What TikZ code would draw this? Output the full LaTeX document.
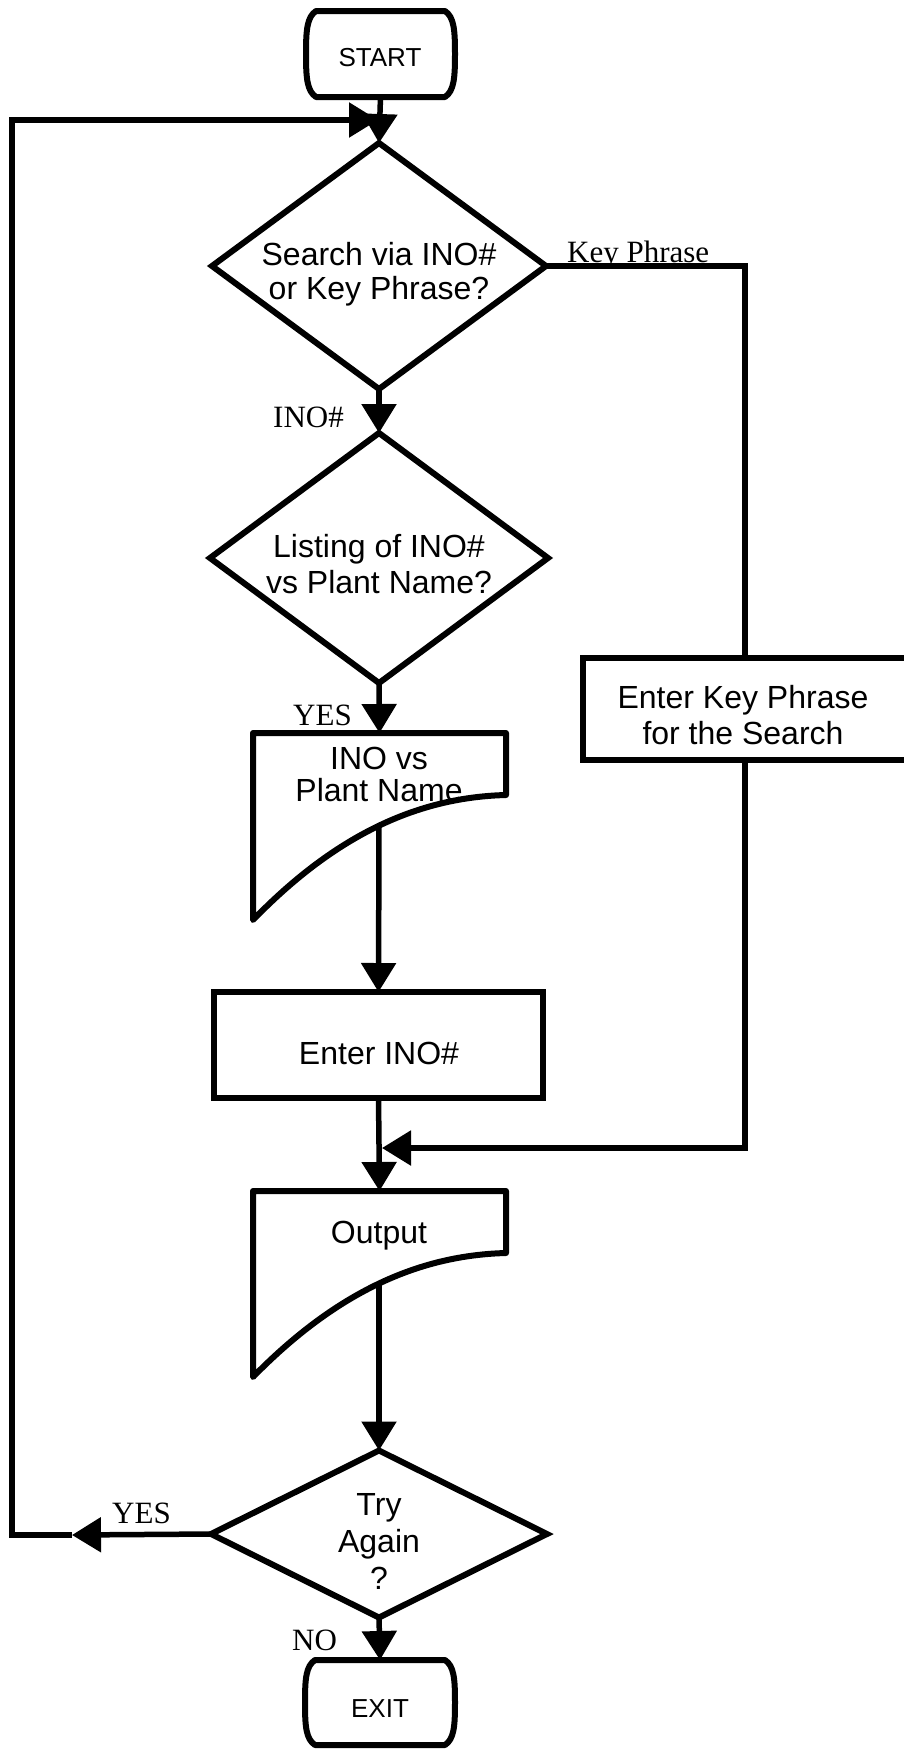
\documentclass[tikz,border=0pt]{standalone}
\usepackage{fontspec}
\setmainfont{Liberation Sans}
\newfontfamily\tagfont{Liberation Serif}
\usetikzlibrary{shapes.geometric,arrows.meta,calc}

% terminal (start / exit) outline drawn around a frame node
\newcommand\terminalshape[1]{%
  \draw[shapeline] ($(#1.north west)+(10,0)$) -- ($(#1.north east)+(-10,0)$)
    .. controls ($(#1.north east)+(-1,6)$) and ($(#1.east)+(0,-24)$) .. (#1.east)
    .. controls ($(#1.east)+(0,24)$) and ($(#1.south east)+(-1,-6)$) .. ($(#1.south east)+(-10,0)$)
    -- ($(#1.south west)+(10,0)$)
    .. controls ($(#1.south west)+(1,-6)$) and ($(#1.west)+(0,24)$) .. (#1.west)
    .. controls ($(#1.west)+(0,-24)$) and ($(#1.north west)+(1,6)$) .. cycle;}

% document (printed output) outline drawn around a frame node
\newcommand\docshape[1]{%
  \draw[shapeline] (#1.north west) -- (#1.north east) -- ($(#1.north east)+(0,62)$)
    .. controls ($(#1.north east)+(-76,64)$) and ($(#1.north east)+(-161,92)$) .. (#1.south west)
    -- cycle;}

\begin{document}
\begin{tikzpicture}[x=1pt,y=-1pt,
  conn/.style={line width=5.5pt, line join=miter},
  flow/.style={conn, -{Triangle[length=29pt,width=34pt]}},
  shapeline/.style={line width=6pt, line join=round},
  frame/.style={rectangle, inner sep=0pt, outer sep=0pt},
  decision/.style={diamond, draw, line width=6pt, inner sep=0pt, outer sep=0pt},
  procbox/.style={rectangle, draw, line width=6pt, inner sep=0pt, outer sep=0pt},
  boxtext/.style={inner sep=0pt, align=center, font=\fontsize{32}{36}\selectfont},
  linetext/.style={inner sep=0pt, anchor=base, font=\fontsize{32}{36}\selectfont},
  termtext/.style={inner sep=0pt, anchor=base, font=\fontsize{26}{30}\selectfont},
  tag/.style={inner sep=0pt, anchor=base west, font=\tagfont\fontsize{31}{34}\selectfont},
]
\useasboundingbox (0,0) rectangle (903,1749);
\fill[white] (0,0) rectangle (903,1749);

% ---- shapes ----
\node[frame, minimum width=149pt, minimum height=86pt] (start) at (380.5,54) {};
\terminalshape{start}
\node[termtext] (starttext) at (380,66) {START};

\node[decision, minimum width=334pt, minimum height=246pt] (d1) at (379,266) {};
\node[boxtext, font=\fontsize{32}{34}\selectfont] (d1text) at (379,275.2)
  {\strut Search via INO\#\\\strut or Key Phrase?};

\node[decision, minimum width=338pt, minimum height=250pt] (d2) at (379,558) {};
\node[boxtext] (d2text) at (379,567.8) {\strut Listing of INO\#\\\strut vs Plant Name?};

\node[frame, minimum width=253pt, minimum height=187pt] (doc1) at (379.5,826.5) {};
\docshape{doc1}
\coordinate (doc1out) at ($(doc1.north east)+(-127,93)$);
\node[boxtext, font=\fontsize{32}{28}\selectfont] (doc1text) at (379,778.4)
  {\strut INO vs\\\strut Plant Name};

\node[procbox, minimum width=329pt, minimum height=106pt] (enter) at (378.5,1045) {};
\node[linetext] (entertext) at (379,1064) {Enter INO\#};

\node[procbox, minimum width=324pt, minimum height=102pt] (keybox) at (745,709) {};
\node[boxtext] (keytext) at (743,718.8) {\strut Enter Key Phrase\\\strut for the Search};

\node[frame, minimum width=253pt, minimum height=186pt] (output) at (379.5,1284) {};
\docshape{output}
\coordinate (outout) at ($(output.north east)+(-127,93)$);
\node[linetext] (outtext) at (379,1243) {Output};

\node[decision, minimum width=336pt, minimum height=167pt] (d3) at (379,1534) {};
\node[boxtext, font=\fontsize{32}{37}\selectfont] (d3text) at (379,1544.6)
  {\strut Try\\\strut Again\\\strut ?};

\node[frame, minimum width=150pt, minimum height=85pt] (exit) at (380,1702.5) {};
\terminalshape{exit}
\node[termtext] (exittext) at (380,1717) {EXIT};

% ---- connector points ----
\coordinate (loopin) at (378,120);
\coordinate (join) at (382,1148);
\coordinate (yestip) at (72,1535);
\coordinate (loopbl) at (12,1535);
\coordinate (looptl) at (12,120);

% ---- connectors ----
\draw[flow] (start.south) -- (d1.north);
\draw[conn] (d1.east) -| (keybox.north);
\draw[flow] (d1.south) -- (d2.north);
\draw[flow] (d2.south) -- (doc1.north);
\draw[flow] (doc1out) -- (enter.north);
\draw[flow] (enter.south) -- (output.north);
\draw[flow] (keybox.south) |- (join);
\draw[flow] (outout) -- (d3.north);
\draw[flow] (d3.south) -- (exit.north);
\draw[flow] (d3.west) -- (yestip);
\draw[flow] (yestip) -- (loopbl) -- (looptl) -- (loopin);

% ---- branch labels ----
\node[tag] (tagkey) at (567,262) {Key Phrase};
\node[tag] (tagino) at (273,427) {INO\#};
\node[tag] (tagyes1) at (293,725) {YES};
\node[tag] (tagyes2) at (112,1523) {YES};
\node[tag] (tagno) at (292,1650) {NO};
\end{tikzpicture}
\end{document}
